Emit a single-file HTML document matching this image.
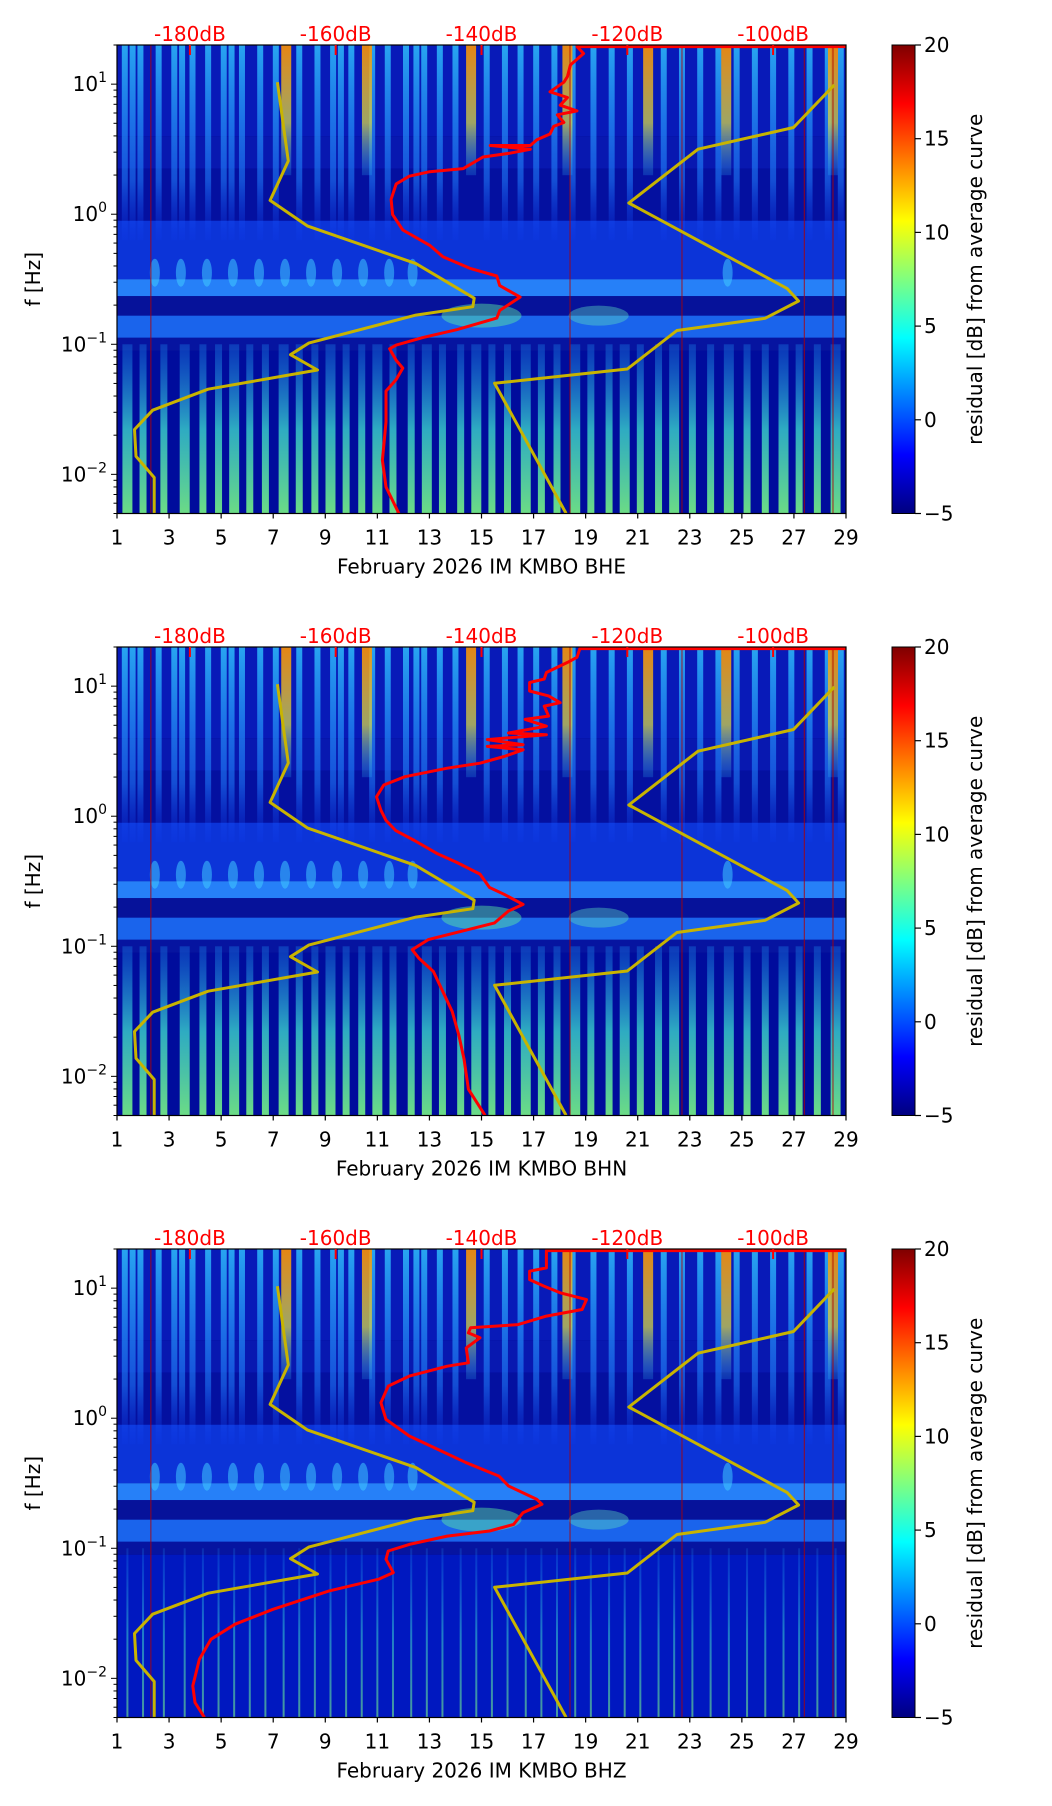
<!DOCTYPE html>
<html><head><meta charset="utf-8"><style>
html,body{margin:0;padding:0;background:#fff;}
svg{display:block;font-family:"DejaVu Sans","Liberation Sans",sans-serif;}
</style></head><body>
<svg id="fig" width="1052" height="1806" viewBox="0 0 1052 1806" xmlns="http://www.w3.org/2000/svg">
<defs>
<linearGradient id="jet" x1="0" y1="1" x2="0" y2="0">
<stop offset="0" stop-color="#00007f"/><stop offset="0.125" stop-color="#0000ff"/><stop offset="0.375" stop-color="#00ffff"/><stop offset="0.625" stop-color="#ffff00"/><stop offset="0.875" stop-color="#ff0000"/><stop offset="1" stop-color="#7f0000"/>
</linearGradient>
<linearGradient id="lowStreak" x1="0" y1="1" x2="0" y2="0">
<stop offset="0" stop-color="#7fff80" stop-opacity="0.95"/><stop offset="0.5" stop-color="#40e8d0" stop-opacity="0.8"/><stop offset="1" stop-color="#20a0ff" stop-opacity="0.3"/>
</linearGradient>
<linearGradient id="upStreak" x1="0" y1="0" x2="0" y2="1">
<stop offset="0" stop-color="#30c8ff" stop-opacity="0.8"/><stop offset="0.7" stop-color="#2080ff" stop-opacity="0.55"/><stop offset="1" stop-color="#1040ff" stop-opacity="0.1"/>
</linearGradient>
<linearGradient id="hotStreak" x1="0" y1="0" x2="0" y2="1">
<stop offset="0" stop-color="#ff9000" stop-opacity="0.9"/><stop offset="0.6" stop-color="#e0e040" stop-opacity="0.7"/><stop offset="1" stop-color="#30c0ff" stop-opacity="0.2"/>
</linearGradient>
</defs>
</svg>
<script>
// ---------------- data ----------------
const dayTicks = [1,3,5,7,9,11,13,15,17,19,21,23,25,27,29];
const dbTicks = [-180,-160,-140,-120,-100];
const cbarTicks = [-5,0,5,10,15,20];
const yDecades = [-2,-1,0,1];
const panelTitles = ["February 2026 IM KMBO  BHE","February 2026 IM KMBO  BHN","February 2026 IM KMBO  BHZ"];
// Peterson low / high noise models (dB, log10 Hz)
const nlnmDb = [-168.0,-166.5,-169.0,-163.9,-149.0,-141.0,-141.2,-149.0,-163.7,-166.2,-162.5,-177.5,-185.1,-187.6,-187.4,-184.9,-184.9];
const nlnmLogF = [1.015,0.41,0.106,-0.09,-0.38,-0.646,-0.711,-0.776,-0.991,-1.08,-1.198,-1.345,-1.507,-1.655,-1.861,-2.024,-2.30];
const nhnmDb = [-91.6,-97.2,-110.3,-119.8,-98.1,-96.5,-101.1,-113.2,-120.0,-138.2,-128.4];
const nhnmLogF = [0.994,0.667,0.50,0.086,-0.57,-0.667,-0.80,-0.894,-1.19,-1.30,-2.30];
// Median PSD curves per channel
const bheDb = [-90,-126.9,-126.0,-127.8,-128.2,-128.7,-130.6,-128.2,-129.2,-126.9,-129.6,-128.7,-130.1,-130.6,-132.4,-133.3,-138.8,-133.3,-136.1,-139.8,-142.5,-147.1,-149.9,-151.7,-152.4,-152.2,-150.8,-147.1,-145.3,-141.6,-137.9,-137.5,-134.7,-137.5,-137.9,-143.4,-148.0,-151.7,-152.6,-151.7,-150.8,-151.7,-153.1,-153.1,-153.6,-153.1,-151.3];
const bheLogF = [1.289,1.289,1.236,1.147,1.059,1.015,0.941,0.897,0.838,0.794,0.764,0.705,0.676,0.617,0.572,0.528,0.528,0.499,0.469,0.440,0.351,0.327,0.292,0.233,0.115,-0.003,-0.121,-0.239,-0.327,-0.416,-0.475,-0.549,-0.637,-0.740,-0.799,-0.888,-0.947,-1.006,-1.035,-1.124,-1.183,-1.271,-1.360,-1.596,-1.891,-2.097,-2.304];
const bhnDb = [-90,-126.5,-126.9,-128.2,-131.1,-131.4,-133.4,-133.4,-130.8,-129.2,-131.4,-130.8,-134.0,-131.1,-136.3,-131.1,-139.2,-134.3,-139.2,-134.3,-136.9,-140.2,-144.7,-150.5,-153.4,-154.4,-153.8,-153.1,-151.8,-149.2,-146.0,-143.4,-140.2,-138.9,-136.9,-134.3,-136.3,-138.2,-142.7,-147.3,-149.5,-148.6,-146.6,-145.3,-144.0,-143.1,-142.4,-141.8,-139.5];
const bhnLogF = [1.289,1.289,1.222,1.183,1.105,1.054,1.028,0.963,0.925,0.873,0.847,0.770,0.744,0.692,0.640,0.627,0.589,0.550,0.537,0.511,0.459,0.408,0.369,0.304,0.240,0.149,0.046,-0.032,-0.109,-0.187,-0.290,-0.355,-0.445,-0.548,-0.600,-0.678,-0.729,-0.820,-0.884,-0.949,-1.026,-1.091,-1.194,-1.349,-1.504,-1.685,-1.866,-2.099,-2.300];
const bhzDb = [-90,-131.1,-131.1,-133.4,-133.4,-131.4,-129.2,-125.6,-126.2,-131.1,-135.0,-141.5,-141.8,-140.2,-142.1,-141.8,-144.7,-149.9,-152.8,-153.8,-153.1,-149.9,-146.0,-142.1,-137.6,-136.3,-132.4,-131.7,-134.3,-135.6,-138.9,-144.7,-149.9,-152.8,-153.1,-152.1,-154.1,-160.9,-168.6,-173.8,-177.1,-178.7,-179.6,-179.3,-178.0];
const bhzLogF = [1.289,1.289,1.156,1.130,1.066,1.015,0.964,0.912,0.836,0.785,0.720,0.695,0.656,0.618,0.541,0.426,0.400,0.324,0.247,0.119,-0.009,-0.137,-0.240,-0.342,-0.445,-0.521,-0.624,-0.662,-0.726,-0.816,-0.867,-0.906,-0.970,-1.021,-1.085,-1.187,-1.238,-1.328,-1.469,-1.584,-1.700,-1.853,-2.058,-2.186,-2.301];
// spectrogram streak days (read approx.)
const lowStreakDays = [1.4,2.0,2.8,3.6,4.3,4.9,5.5,6.1,6.7,7.4,8.0,8.6,9.2,9.8,10.4,11.0,11.6,12.3,12.9,13.5,14.2,14.8,15.4,16.0,16.7,17.3,17.9,18.6,19.2,19.9,20.5,21.1,21.8,22.4,23.1,23.8,24.5,25.2,25.9,26.6,27.2,27.9,28.6];
const upStreakDays = [1.3,1.6,1.9,2.6,3.2,3.5,3.9,4.5,5.1,5.4,5.8,6.5,7.1,8.0,8.7,9.3,9.6,10.0,10.8,11.4,12.1,12.5,12.8,13.4,14.0,15.2,15.9,16.5,17.1,17.8,18.5,19.3,20.0,20.7,22.0,22.7,23.4,24.1,24.8,25.5,26.2,26.9,27.6,28.3,28.8];
const hotStreakDays = [7.5,10.6,14.6,18.3,21.4,24.4,28.5];
const redLineDays = [2.3,18.4,22.7,27.4,28.5];
const blobDays = [2.3,3.3,4.3,5.3,6.3,7.3,8.3,9.3,10.3,11.3,12.2,24.3];

// ---------------- layout ----------------
const NS = "http://www.w3.org/2000/svg";
const svg = document.getElementById('fig');
const X0 = 117, X1 = 846, W = X1-X0, PH = 468.5;
const tops = [45, 647, 1249];
const FS = 20;
const LOGTOP = Math.log10(20), LOGBOT = Math.log10(0.005);
function xDay(d){ return X0 + (d-1)*W/28; }
function xDb(db){ return X0 + 0.1*W + (db+180)*W/100; }
function mk(tag, attrs, parent){ const e=document.createElementNS(NS,tag); for(const k in attrs) e.setAttribute(k,attrs[k]); (parent||svg).appendChild(e); return e; }

function drawPanel(p){
  const top = tops[p];
  const yF = lf => top + (LOGTOP-lf)*PH/(LOGTOP-LOGBOT);
  const g = mk('g',{});
  
  
  const clip = mk('clipPath',{id:'clip'+p}, svg.querySelector('defs'));
  mk('rect',{x:X0,y:top,width:W,height:PH},clip);
  const sg = mk('g',{'clip-path':'url(#clip'+p+')'},g);
  
  
  const band = (a,b,col,op)=>mk('rect',{x:X0,y:yF(a),width:W,height:yF(b)-yF(a),fill:col,'fill-opacity':op==null?1:op},sg);
  band(1.31,-2.31,'#000090');
  band(1.31,0.6,'#081ab8');
  band(0.6,0.35,'#0818b0');
  band(0.35,-0.05,'#0410a0');
  band(-0.05,-0.5,'#0c34d8');
  band(-0.5,-0.63,'#2680f8');
  band(-0.63,-0.78,'#06129a');
  band(-0.78,-0.95,'#1a64ec');
  band(-0.95,-1.05,'#0614a0');
  band(-1.05,-2.31,p==2?'#0018c0':'#000c9c');
  upStreakDays.forEach(d=>{
    const r = mk('rect',{x:xDay(d)-3,y:yF(1.31),width:6,height:yF(-0.2)-yF(1.31),fill:'url(#upStreak)'},sg);
    
    
  });
  hotStreakDays.forEach(d=>{
    const r = mk('rect',{x:xDay(d)-5,y:yF(1.31),width:10,height:yF(0.3)-yF(1.31),fill:'url(#hotStreak)'},sg);
    
    
  });
  blobDays.forEach(d=>{
    const r = mk('ellipse',{cx:xDay(d)+4,cy:yF(-0.45),rx:5,ry:14,fill:'#40c8ff','fill-opacity':0.55},sg);
    
    
  });
  mk('ellipse',{cx:xDay(15),cy:yF(-0.78),rx:40,ry:12,fill:'#60f0a0','fill-opacity':0.45},sg);
  mk('ellipse',{cx:xDay(19.5),cy:yF(-0.78),rx:30,ry:10,fill:'#60e0c0','fill-opacity':0.4},sg);
  lowStreakDays.forEach((d,i)=>{
    const w = p==2 ? 2 : (i%3==0?10:7);
    const r = mk('rect',{x:xDay(d)-w/2,y:yF(-1.0),width:w,height:yF(-2.31)-yF(-1.0),fill:'url(#lowStreak)','fill-opacity':p==2?0.6:0.9},sg);
    
    
  });
  redLineDays.forEach(d=>{
    const r = mk('rect',{x:xDay(d)-0.6,y:top,width:1.2,height:PH,fill:'#b00000','fill-opacity':0.7},sg);
    
    
  });
  const line = (dbs,lfs,col,w,name)=>{
    const pts = dbs.map((v,i)=>xDb(v).toFixed(1)+','+yF(lfs[i]).toFixed(1)).join(' ');
    const pl = mk('polyline',{points:pts,fill:'none',stroke:col,'stroke-width':w,'stroke-linejoin':'round'},sg);
    
    
  };
  line(nlnmDb,nlnmLogF,'#c8b400',3,'nlnm-curve');
  line(nhnmDb,nhnmLogF,'#c8b400',3,'nhnm-curve');
  const rd = [bheDb,bhnDb,bhzDb][p], rl = [bheLogF,bhnLogF,bhzLogF][p];
  line(rd,rl,'#ff0000',3,'median-psd-curve');
  const fr = mk('rect',{x:X0,y:top,width:W,height:PH,fill:'none',stroke:'#000','stroke-width':1.2},g);
  
  
  dayTicks.forEach(d=>{
    mk('line',{x1:xDay(d),x2:xDay(d),y1:top+PH,y2:top+PH+5,stroke:'#000','stroke-width':1.2},g);
    const t = mk('text',{x:xDay(d),y:top+PH+31,'text-anchor':'middle','font-size':FS,fill:'#000'},g);
    t.textContent = d;
    
    
  });
  const xl = mk('text',{x:(X0+X1)/2,y:top+PH+60,'text-anchor':'middle','font-size':FS,fill:'#000','xml:space':'preserve'},g);
  xl.textContent = panelTitles[p];
  
  
  dbTicks.forEach(db=>{
    mk('line',{x1:xDb(db),x2:xDb(db),y1:top,y2:top+10,stroke:'#ff0000','stroke-width':2},g);
    const t = mk('text',{x:xDb(db),y:top-4,'text-anchor':'middle','font-size':FS,fill:'#ff0000'},g);
    t.textContent = db+'dB';
    
    
  });
  for(let dec=-3; dec<=1; dec++){
    for(let m=1;m<10;m++){
      const lf = dec+Math.log10(m);
      if(lf>LOGTOP||lf<LOGBOT) continue;
      const major = m==1;
      mk('line',{x1:X0-(major?6:3.5),x2:X0,y1:yF(lf),y2:yF(lf),stroke:'#000','stroke-width':1}, g);
    }
  }
  yDecades.forEach(dec=>{
    const t = mk('text',{x:X0-10,y:yF(dec)+7,'text-anchor':'end','font-size':FS,fill:'#000'},g);
    
    
    const a = mk('tspan',{},t); a.textContent='10';
    const b = mk('tspan',{dy:-9,'font-size':14},t); b.textContent = dec<0 ? '\u2212'+(-dec) : dec;
  });
  const yl = mk('text',{x:0,y:0,transform:`translate(40,${top+PH/2}) rotate(-90)`,'text-anchor':'middle','font-size':FS,fill:'#000'},g);
  yl.textContent='f [Hz]';
  
  
  const cb = mk('rect',{x:892,y:top,width:23,height:PH,fill:'url(#jet)',stroke:'#000','stroke-width':1},g);
  
  
  cbarTicks.forEach(v=>{
    const y = top + PH - (v+5)/25*PH;
    mk('line',{x1:915,x2:921,y1:y,y2:y,stroke:'#000','stroke-width':1.2},g);
    const t = mk('text',{x:924,y:y+7,'font-size':FS,fill:'#000'},g);
    t.textContent = v<0 ? '\u2212'+(-v) : v;
    
    
  });
  const cl = mk('text',{x:0,y:0,transform:`translate(982,${top+PH/2}) rotate(-90)`,'text-anchor':'middle','font-size':FS,fill:'#000'},g);
  cl.textContent='residual [dB] from average curve';
  
  
}
[0,1,2].forEach(drawPanel);
</script>
</body></html>
